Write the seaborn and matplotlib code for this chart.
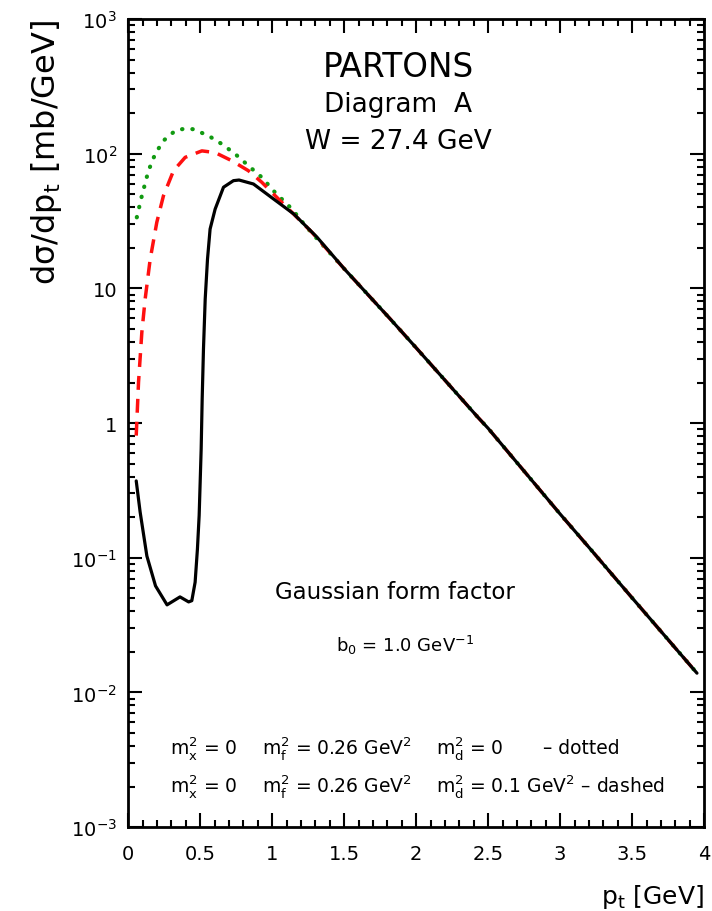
import numpy as np
import pandas as pd
import matplotlib
matplotlib.use("Agg")
import matplotlib.pyplot as plt
import seaborn as sns
from matplotlib.ticker import LogLocator, MultipleLocator, FixedLocator, FixedFormatter, NullFormatter

# Transverse-momentum spectrum, three mass choices
pt_solid = [0.056, 0.083, 0.13, 0.19, 0.27, 0.36, 0.42, 0.442, 0.465, 0.481, 0.493, 0.50,
            0.507, 0.514, 0.523, 0.535, 0.551, 0.569, 0.604, 0.662, 0.731, 0.77, 0.87,
            1.01, 1.15, 1.31, 1.5, 1.82, 2.0, 2.43, 2.5, 3.0, 3.21, 3.5, 3.95]
xs_solid = [0.372, 0.219, 0.103, 0.0618, 0.0447, 0.0512, 0.047, 0.048, 0.0658, 0.116, 0.206,
            0.363, 0.643, 1.51, 3.55, 8.34, 16.5, 27.6, 38.8, 56.4, 63.1, 63.8, 59.6,
            46.1, 35.7, 24.1, 14.0, 5.93, 3.62, 1.10, 0.914, 0.211, 0.116, 0.0503, 0.0139]

pt_dashed = [0.056, 0.072, 0.095, 0.118, 0.153, 0.199, 0.245, 0.315, 0.396, 0.512, 0.604,
             0.72, 0.835, 0.928, 1.044, 1.16, 1.276, 1.5, 1.82, 2.0, 2.43, 2.5, 3.0, 3.21,
             3.5, 3.95]
xs_dashed = [0.807, 2.01, 4.72, 8.34, 16.5, 31.0, 48.7, 74.8, 94.0, 105.0, 102.0,
             88.7, 74.8, 61.4, 46.1, 34.7, 26.1, 14.0, 5.93, 3.62, 1.10, 0.914, 0.211, 0.116,
             0.0503, 0.0139]

pt_dotted = [0.06, 0.095, 0.141, 0.1875, 0.245, 0.326, 0.396, 0.453, 0.558, 0.651, 0.743,
             0.835, 0.928, 1.02, 1.137, 1.229, 1.5, 1.82, 2.0, 2.43, 2.5, 3.0, 3.21, 3.5, 3.95]
xs_dotted = [33.7, 48.7, 74.8, 99.6, 125.0, 148.0, 154.0, 152.0, 136.0, 118.0, 99.6,
             81.5, 66.8, 51.6, 38.9, 29.3, 14.0, 5.93, 3.62, 1.10, 0.914, 0.211, 0.116,
             0.0503, 0.0139]

x_ticks = [0, 0.5, 1, 1.5, 2, 2.5, 3, 3.5, 4]
x_labels = ["0", "0.5", "1", "1.5", "2", "2.5", "3", "3.5", "4"]
y_ticks = [1e-3, 1e-2, 1e-1, 1, 10, 1e2, 1e3]
y_labels = [r"$\mathregular{10^{-3}}$", r"$\mathregular{10^{-2}}$", r"$\mathregular{10^{-1}}$",
            "1", "10", r"$\mathregular{10^{2}}$", r"$\mathregular{10^{3}}$"]

sns.set_style("ticks")
plt.rcParams["font.family"] = ["DejaVu Sans"]
plt.rcParams["mathtext.default"] = "regular"
plt.rcParams["text.color"] = "black"
plt.rcParams["axes.labelcolor"] = "black"
plt.rcParams["xtick.color"] = "black"
plt.rcParams["ytick.color"] = "black"

fig = plt.figure(figsize=(7.12, 9.12), dpi=100)
ax = fig.add_axes([0.18, 0.092, 0.809, 0.886])

sns.lineplot(x=pt_dotted, y=xs_dotted, ax=ax, color="#119a11", lw=3.0,
             linestyle=(0, (0.1, 2.4)), dash_capstyle="round")
sns.lineplot(x=pt_dashed, y=xs_dashed, ax=ax, color="#ff1010", lw=2.5,
             linestyle=(0, (4, 2.6)))
sns.lineplot(x=pt_solid, y=xs_solid, ax=ax, color="black", lw=2.3)

ax.set_yscale("log")
ax.set_xlim(0, 4)
ax.set_ylim(1e-3, 1e3)

ax.xaxis.set_major_locator(FixedLocator(x_ticks))
ax.xaxis.set_major_formatter(FixedFormatter(x_labels))
ax.xaxis.set_minor_locator(MultipleLocator(0.1))
ax.yaxis.set_major_locator(FixedLocator(y_ticks))
ax.yaxis.set_major_formatter(FixedFormatter(y_labels))
ax.yaxis.set_minor_locator(LogLocator(base=10, subs=np.arange(2, 10), numticks=20))
ax.yaxis.set_minor_formatter(NullFormatter())

ax.tick_params(which="both", direction="in", top=True, right=True, width=1.5,
               color="black", labelsize=14)
ax.tick_params(which="major", length=10)
ax.tick_params(which="minor", length=5)
ax.tick_params(axis="x", pad=12)
ax.tick_params(axis="y", pad=8)
for s in ax.spines.values():
    s.set_linewidth(2)
    s.set_color("black")

ax.set_xlabel(r"$\mathregular{p_t}$ [GeV]", fontsize=18, loc="right", labelpad=14)
ax.set_ylabel(r"d$\mathregular{\sigma}$/d$\mathregular{p_t}$ [mb/GeV]", fontsize=23,
              loc="top", labelpad=5)

ax.text(0.469, 0.941, "PARTONS", transform=ax.transAxes, ha="center", va="center", fontsize=23.5)
ax.text(0.469, 0.895, "Diagram  A", transform=ax.transAxes, ha="center", va="center", fontsize=19)
ax.text(0.469, 0.849, "W = 27.4 GeV", transform=ax.transAxes, ha="center", va="center", fontsize=19)
ax.text(0.464, 0.292, "Gaussian form factor", transform=ax.transAxes, ha="center", va="center",
        fontsize=16.5)
ax.text(0.481, 0.226, r"$\mathregular{b_0}$ = 1.0 $\mathregular{GeV^{-1}}$", transform=ax.transAxes,
        ha="center", va="center", fontsize=13)

row1, row2 = 0.099, 0.051
fs = 13.5
ax.text(0.073, row1, r"$\mathregular{m_x^2}$ = 0", transform=ax.transAxes, ha="left", va="center", fontsize=fs)
ax.text(0.233, row1, r"$\mathregular{m_f^2}$ = 0.26 $\mathregular{GeV^2}$", transform=ax.transAxes,
        ha="left", va="center", fontsize=fs)
ax.text(0.535, row1, r"$\mathregular{m_d^2}$ = 0", transform=ax.transAxes, ha="left", va="center", fontsize=fs)
ax.text(0.72, row1, "– dotted", transform=ax.transAxes, ha="left", va="center", fontsize=fs)

ax.text(0.073, row2, r"$\mathregular{m_x^2}$ = 0", transform=ax.transAxes, ha="left", va="center", fontsize=fs)
ax.text(0.233, row2, r"$\mathregular{m_f^2}$ = 0.26 $\mathregular{GeV^2}$", transform=ax.transAxes,
        ha="left", va="center", fontsize=fs)
ax.text(0.535, row2, r"$\mathregular{m_d^2}$ = 0.1 $\mathregular{GeV^2}$ – dashed", transform=ax.transAxes,
        ha="left", va="center", fontsize=fs)

fig.savefig("out.png", dpi=100)
